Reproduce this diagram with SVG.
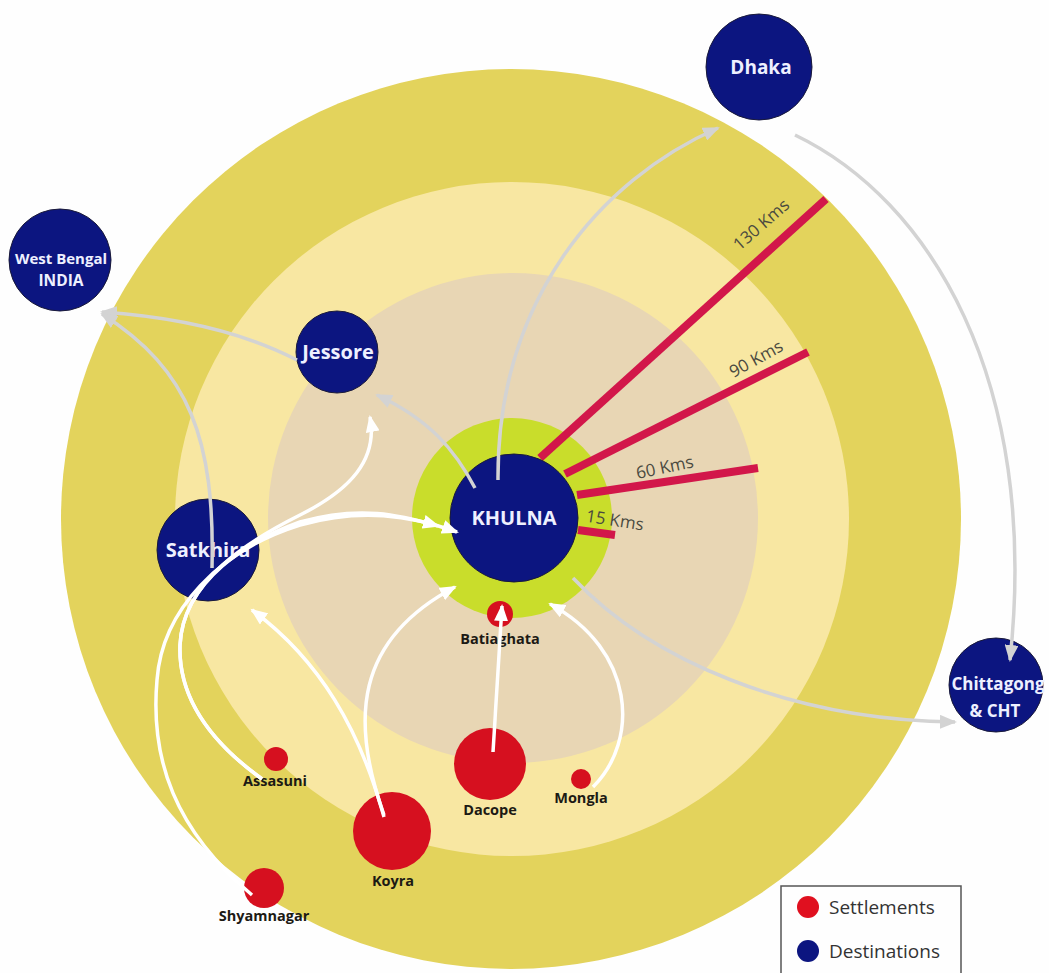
<svg xmlns="http://www.w3.org/2000/svg" width="1049" height="973" viewBox="0 0 1049 973">
<style>
.dst{font-family:"Open Sans","Liberation Sans",sans-serif;font-weight:700;fill:#eef0ff;text-anchor:middle}
.set{font-family:"Open Sans","Liberation Sans",sans-serif;font-weight:700;fill:#1c1a14;text-anchor:middle;font-size:14.5px}
.km{font-family:"Open Sans","Liberation Sans",sans-serif;font-size:17px;fill:#4a4a40;text-anchor:middle}
.navy{fill:#0c1580;stroke:#1a1a3a;stroke-width:1}
.red{fill:#d6101f}
.bar{stroke:#d2174a;stroke-width:8;stroke-linecap:butt}
.g{fill:none;stroke:#d3d3d3;stroke-width:3.5}
.w{fill:none;stroke:#ffffff;stroke-width:3.5}
.leg{font-family:"Open Sans","Liberation Sans",sans-serif;font-size:19px;fill:#333}
</style>
<defs>
<marker id="ag" markerUnits="userSpaceOnUse" markerWidth="18" markerHeight="14" refX="15" refY="7" orient="auto"><path d="M0,0 L17,7 L0,14 z" fill="#d3d3d3"/></marker>
<marker id="aw" markerUnits="userSpaceOnUse" markerWidth="18" markerHeight="14" refX="15" refY="7" orient="auto"><path d="M0,0 L17,7 L0,14 z" fill="#ffffff"/></marker>
</defs>
<rect x="0" y="0" width="1049" height="973" fill="#fefefe"/>
<g id="rings">
<circle cx="511" cy="519" r="450" fill="#e3d35c"/>
<circle cx="512" cy="519" r="337" fill="#f8e7a2"/>
<circle cx="513" cy="518" r="245" fill="#e8d6b4"/>
<circle cx="512" cy="518" r="100" fill="#c9dd2b"/>
</g>
<g id="distances">
<line class="bar" x1="540" y1="458" x2="826" y2="199"/>
<line class="bar" x1="565" y1="474" x2="808" y2="352"/>
<line class="bar" x1="577" y1="495" x2="758" y2="468"/>
<line class="bar" x1="578" y1="530" x2="615" y2="535"/>
<text class="km" transform="translate(765,229) rotate(-41)">130 Kms</text>
<text class="km" transform="translate(759,364) rotate(-29)">90 Kms</text>
<text class="km" transform="translate(666,473) rotate(-12)">60 Kms</text>
<text class="km" transform="translate(614,526) rotate(9)">15 Kms</text>
</g>
<g id="khulna"><circle class="navy" cx="514" cy="518" r="64"/><text class="dst" x="514" y="525" font-size="20">KHULNA</text></g>
<g id="dhaka"><circle class="navy" cx="759" cy="67" r="53"/><text class="dst" x="761" y="74" font-size="19">Dhaka</text></g>
<g id="westbengal"><circle class="navy" cx="60" cy="260" r="51"/><text class="dst" x="61" y="264" font-size="15">West Bengal</text><text class="dst" x="61" y="286" font-size="15.5">INDIA</text></g>
<g id="jessore"><circle class="navy" cx="337" cy="352" r="41"/><text class="dst" x="338" y="359" font-size="20">Jessore</text></g>
<g id="satkhira"><circle class="navy" cx="208" cy="550" r="51"/><text class="dst" x="208" y="557" font-size="20">Satkhira</text></g>
<g id="chittagong"><circle class="navy" cx="996" cy="685" r="47"/><text class="dst" x="998" y="690" font-size="17">Chittagong</text><text class="dst" x="995" y="717" font-size="17">&amp; CHT</text></g>
<g id="batiaghata"><circle class="red" cx="500" cy="614" r="13"/><text class="set" x="500" y="644">Batiaghata</text></g>
<g id="dacope"><circle class="red" cx="490" cy="764" r="36"/><text class="set" x="490" y="815">Dacope</text></g>
<g id="mongla"><circle class="red" cx="581" cy="779" r="10"/><text class="set" x="581" y="803">Mongla</text></g>
<g id="assasuni"><circle class="red" cx="276" cy="759" r="12"/><text class="set" x="275" y="786">Assasuni</text></g>
<g id="koyra"><circle class="red" cx="392" cy="831" r="39"/><text class="set" x="393" y="886">Koyra</text></g>
<g id="shyamnagar"><circle class="red" cx="264" cy="888" r="20"/><text class="set" x="264" y="921">Shyamnagar</text></g>
<g id="connectors">
<path class="g" d="M498,480 C497,300 600,180 718,128" marker-end="url(#ag)"/>
<path class="g" d="M475,488 C455,450 430,420 377,395" marker-end="url(#ag)"/>
<path class="g" d="M297,360 Q220,320 102,312" marker-end="url(#ag)"/>
<path class="g" d="M212,568 C215,440 190,370 102,314" marker-end="url(#ag)"/>
<path class="g" d="M795,135 C930,200 1040,380 1010,660" marker-end="url(#ag)"/>
<path class="g" d="M573,578 C650,660 790,720 955,722" marker-end="url(#ag)"/>
<path class="w" d="M493,752 L502,606" marker-end="url(#aw)"/>
<path class="w" d="M384,817 C360,730 320,660 252,610" marker-end="url(#aw)"/>
<path class="w" d="M384,815 C350,720 355,640 455,587" marker-end="url(#aw)"/>
<path class="w" d="M593,787 C640,740 635,650 550,604" marker-end="url(#aw)"/>
<path class="w" d="M262,779 C215,745 178,700 180,645 C183,580 250,540 300,515 C350,490 378,460 370,417" marker-end="url(#aw)"/>
<path class="w" d="M262,779 C215,745 178,700 180,645 C183,580 250,540 300,522 C360,505 400,515 438,526" marker-end="url(#aw)"/>
<path class="w" d="M252,895 C175,830 150,760 157,680 C162,610 220,550 300,525 C360,508 410,515 457,532" marker-end="url(#aw)"/>
</g>
<g id="legend">
<rect x="781" y="886" width="180" height="95" fill="#fefefe" stroke="#555" stroke-width="1.5"/>
<circle cx="808" cy="907" r="11" fill="#e0101f"/>
<circle cx="808" cy="951" r="11" fill="#0c1580"/>
<text class="leg" x="829" y="914">Settlements</text>
<text class="leg" x="829" y="958">Destinations</text>
</g>
</svg>
